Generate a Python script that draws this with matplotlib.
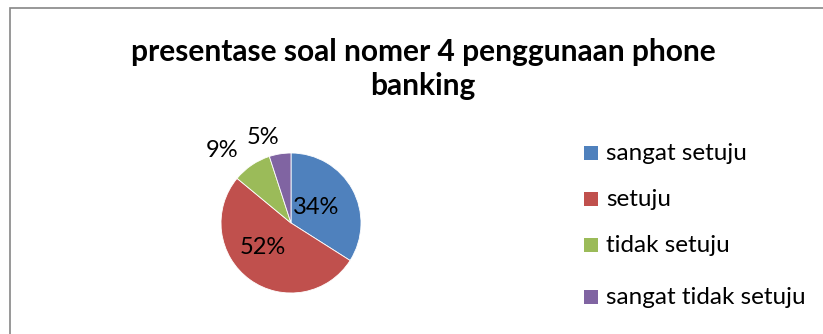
import numpy as np
import matplotlib.pyplot as plt
import matplotlib as mpl
from matplotlib.patches import Rectangle

mpl.rcParams['font.family'] = ['Lato', 'DejaVu Sans']

# data
labels = ['sangat setuju', 'setuju', 'tidak setuju', 'sangat tidak setuju']
values = [34, 52, 9, 5]
colors = ['#4F81BD', '#C0504D', '#9BBB59', '#8064A2']
title = 'presentase soal nomer 4 penggunaan phone\nbanking'

W, H = 823, 334
fig = plt.figure(figsize=(W / 100, H / 100), dpi=100)
fig.patch.set_facecolor('white')

# chart border (only left and top visible in the crop)
fig.add_artist(Rectangle((10 / W, -0.05), 1.0, (H - 8) / H + 0.05,
                         transform=fig.transFigure, fill=False,
                         edgecolor='#868686', linewidth=1.2))

fig.text(423 / W, 1 - 69 / H, title, ha='center', va='center',
         fontsize=21.5, fontweight='bold', linespacing=1.22)

# pie axes: center (291, 223), radius 70 px
r = 70
ax = fig.add_axes([(291 - r) / W, 1 - (223 + r) / H, 2 * r / W, 2 * r / H])
wedges, _ = ax.pie(values, colors=colors, startangle=90, counterclock=False,
                   wedgeprops=dict(edgecolor='white', linewidth=0.6))
ax.set_aspect('equal')
ax.set_xlim(-1, 1)
ax.set_ylim(-1, 1)
ax.axis('off')

# percentage labels placed by angle
cum = 0
radii = [0.42, 0.53, 1.43, 1.29]
nudge = [3, -13, 9, 9]
for v, rr, dn in zip(values, radii, nudge):
    mid = 90 - (cum + v / 2) / sum(values) * 360 + dn
    cum += v
    ax.text(rr * np.cos(np.radians(mid)), rr * np.sin(np.radians(mid)),
            f'{v}%', ha='center', va='center', fontsize=17, clip_on=False)

# legend
leg_y = [153, 199, 245, 297]
for lab, c, yy in zip(labels, colors, leg_y):
    fig.add_artist(Rectangle((584 / W, 1 - (yy + 7) / H), 14 / W, 14 / H,
                             transform=fig.transFigure, facecolor=c,
                             edgecolor='none'))
    fig.text(606 / W, 1 - yy / H, lab, ha='left', va='center', fontsize=17.5)

fig.savefig('out.png', dpi=100)
